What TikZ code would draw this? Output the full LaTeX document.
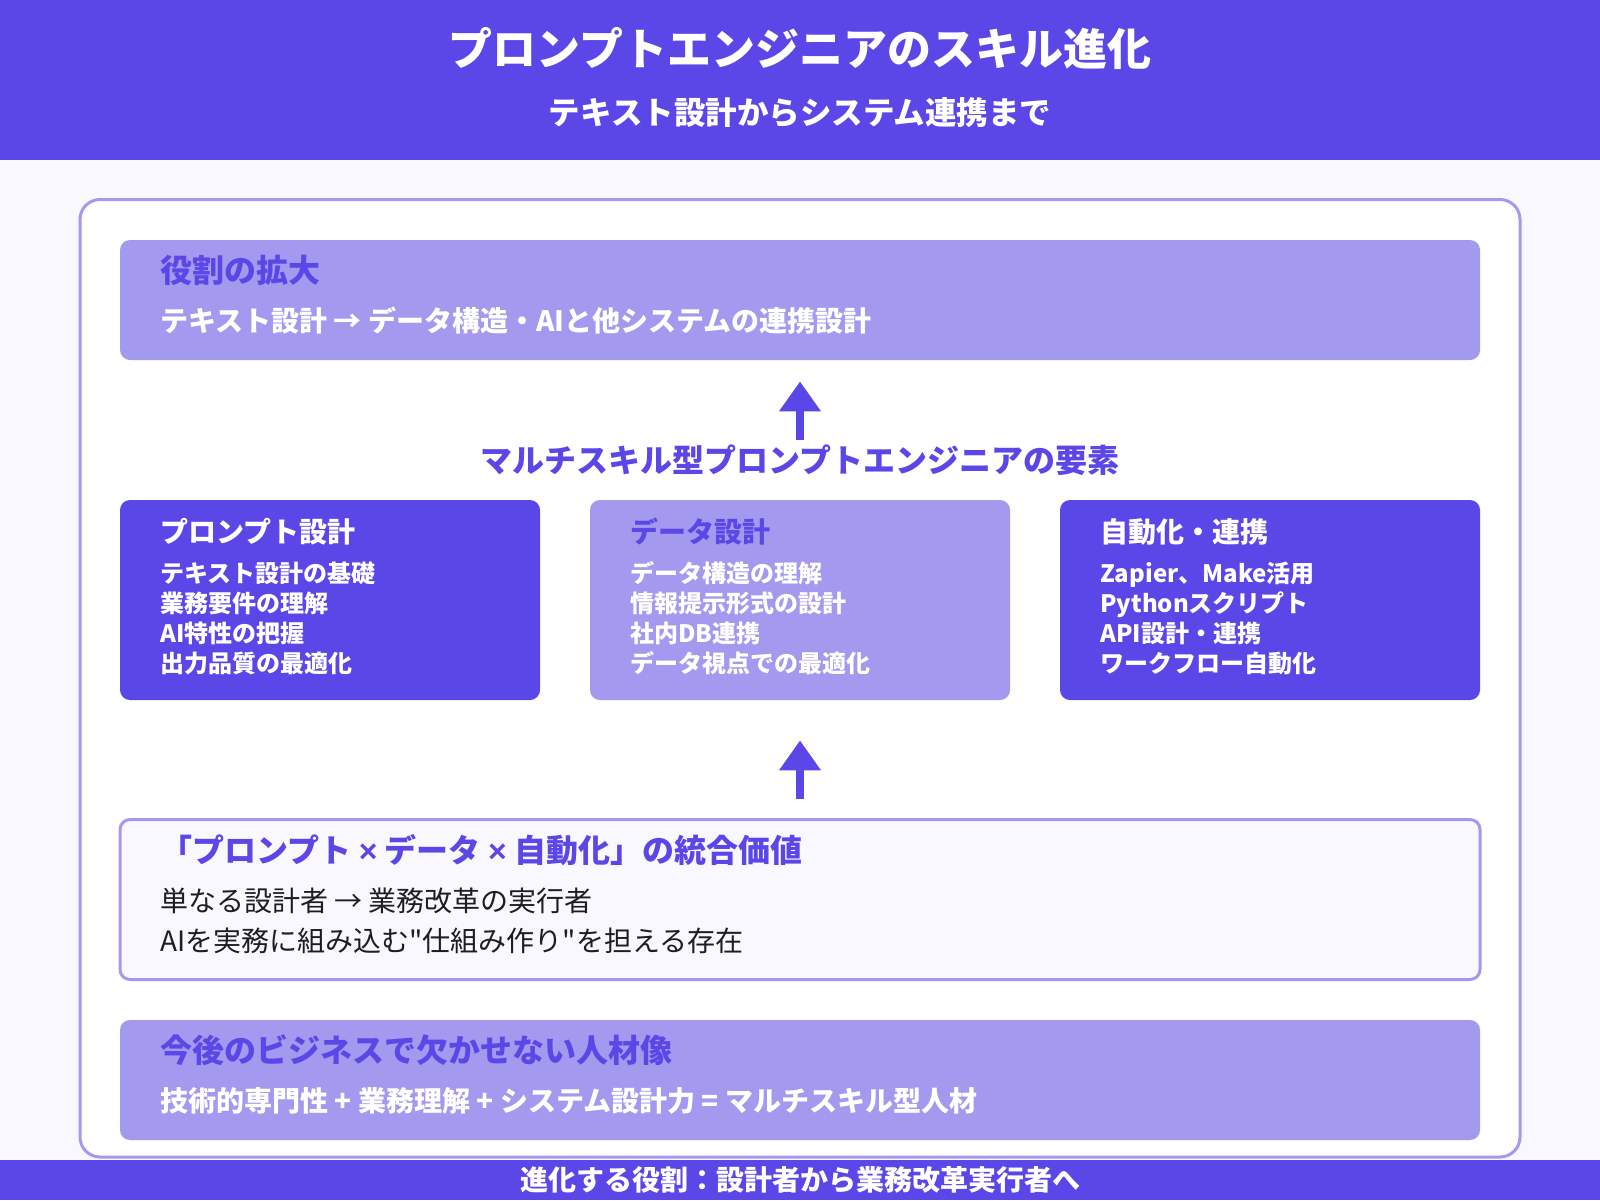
\documentclass[tikz,border=0pt]{standalone}
\usepackage{fontspec}
\setmainfont{Noto Sans CJK JP}[Ligatures=TeXOff]
\newfontfamily\latin{Liberation Sans}
\usetikzlibrary{arrows.meta}
\definecolor{indigo}{HTML}{5B47E8}
\definecolor{lilac}{HTML}{A39AEF}
\definecolor{paper}{HTML}{F9F8FF}
\definecolor{ink}{HTML}{1E1E1E}
\tikzset{>={Triangle[length=15pt,width=20pt]}}

\begin{document}
\begin{tikzpicture}[x=0.5pt,y=-0.5pt,   % 1 unit = 1 px, y downwards
  darkcard/.style={fill=indigo,rounded corners=5pt,minimum width=210pt,minimum height=100pt,inner sep=0pt},
  lightcard/.style={darkcard,fill=lilac},
  widebar/.style={fill=lilac,rounded corners=5pt,minimum width=680pt,minimum height=60pt,inner sep=0pt},
  framebar/.style={draw=lilac,line width=1.5pt,fill=paper,rounded corners=5pt,minimum width=680pt,minimum height=80pt,inner sep=0pt},
  bigtitle/.style={anchor=west,inner sep=0pt,text=indigo,font=\bfseries\fontsize{16}{19}\selectfont},
  subline/.style={anchor=west,inner sep=0pt,text=white,font=\bfseries\fontsize{14}{17}\selectfont},
  cardtitle/.style={anchor=west,inner sep=0pt,font=\bfseries\fontsize{14}{17}\selectfont},
  cardlist/.style={anchor=west,align=left,inner sep=0pt,text=white,font=\bfseries\fontsize{12}{15}\selectfont},
  plainline/.style={anchor=west,inner sep=0pt,text=ink,font=\fontsize{14}{17}\selectfont},
  uparrow/.style={indigo,line width=4pt,->},
  ]
  \useasboundingbox (0,0) rectangle (1600,1200);
  % columns
  \def\xa{330}
  \def\xb{800}
  \def\xc{1270}
  \def\ty{532}  % card title line
  \def\ly{618}  % card list centre
  % page, header, outer card
  \fill[paper] (0,0) rectangle (1600,1200);
  \fill[indigo] (0,0) rectangle (1600,160);
  \draw[lilac,line width=1.5pt,fill=white,rounded corners=10pt] (80,199.5) rectangle (1520,1157);
  \fill[indigo] (0,1160) rectangle (1600,1200);
  \node[inner sep=0pt,text=white,font=\bfseries\fontsize{22}{26}\selectfont] (head) at (800,48) {プロンプトエンジニアのスキル進化};
  \node[inner sep=0pt,text=white,font=\bfseries\fontsize{15.75}{18}\selectfont] (subhead) at (800,113) {テキスト設計からシステム連携まで};
  \node[inner sep=0pt,text=white,font=\bfseries\fontsize{14}{17}\selectfont] (foot) at (800,1180) {進化する役割：設計者から業務改革実行者へ};

  % role
  \node[widebar] (role) at (800,300) {};
  \node[bigtitle] (roletitle) at (160,270) {役割の拡大};
  \node[subline] (rolesub) at (160,321) {テキスト設計 → データ構造・AIと他システムの連携設計};

  % elements
  \node[inner sep=0pt,text=indigo,font=\bfseries\fontsize{16}{19}\selectfont] (elem) at (800,460) {マルチスキル型プロンプトエンジニアの要素};
  \draw[uparrow,shorten <=2pt,shorten >=10.5pt] (elem.north) -- (role.south);

  \node[darkcard] (prompt) at (\xa,600) {};
  \node[lightcard] (data) at (\xb,600) {};
  \node[darkcard] (auto) at (\xc,600) {};
  \node[cardtitle,text=white] (prompttitle) at (\xa-170,\ty) {プロンプト設計};
  \node[cardtitle,text=indigo] (datatitle) at (\xb-170,\ty) {データ設計};
  \node[cardtitle,text=white] (autotitle) at (\xc-170,\ty) {自動化・連携};
  \node[cardlist] (promptlist) at (\xa-170,\ly) {テキスト設計の基礎\\業務要件の理解\\AI特性の把握\\出力品質の最適化};
  \node[cardlist] (datalist) at (\xb-170,\ly) {データ構造の理解\\情報提示形式の設計\\社内DB連携\\データ視点での最適化};
  \node[cardlist] (autolist) at (\xc-170,\ly) {Zapier、Make活用\\Pythonスクリプト\\API設計・連携\\ワークフロー自動化};

  % integration
  \node[framebar] (integ) at (800,899.5) {};
  \draw[uparrow,shorten <=9.75pt,shorten >=20pt] (integ.north) -- (data.south);
  \node[bigtitle] (integtitle) at (160,850) {「プロンプト {\latin\bfseries ×} データ {\latin\bfseries ×} 自動化」の統合価値};
  \node[plainline] (intega) at (160,901) {単なる設計者 → 業務改革の実行者};
  \node[plainline] (integb) at (160,941) {AIを実務に組み込む"仕組み作り"を担える存在};

  % future
  \node[widebar] (future) at (800,1080) {};
  \node[bigtitle] (futuretitle) at (160,1050) {今後のビジネスで欠かせない人材像};
  \node[subline] (futuresub) at (160,1101) {技術的専門性 + 業務理解 + システム設計力 = マルチスキル型人材};
\end{tikzpicture}
\end{document}
